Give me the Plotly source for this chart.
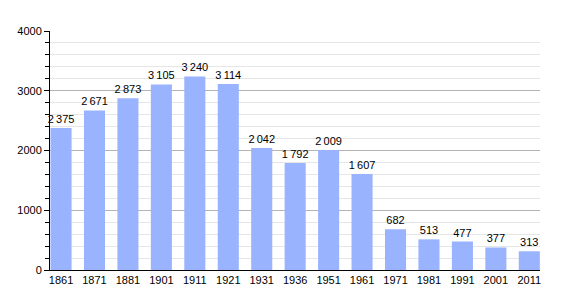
import plotly.graph_objects as go

years = ["1861", "1871", "1881", "1901", "1911", "1921", "1931", "1936", "1951", "1961", "1971", "1981", "1991", "2001", "2011"]
population = [2375, 2671, 2873, 3105, 3240, 3114, 2042, 1792, 2009, 1607, 682, 513, 477, 377, 313]

def fmt(v):
    return f"{v:,}".replace(",", "\u2009")

fig = go.Figure(go.Bar(
    x=years, y=population,
    text=[fmt(v) for v in population],
    textposition="outside",
    constraintext="none",
    textfont=dict(family="Liberation Sans, Arial", size=11, color="black"),
    cliponaxis=False,
    marker=dict(color="#99b3ff", line=dict(width=0)),
))

fig.update_layout(
    width=570, height=300,
    margin=dict(l=50, r=30, t=31, b=30),
    paper_bgcolor="white", plot_bgcolor="white",
    bargap=0.37,
    showlegend=False,
    font=dict(family="Liberation Sans, Arial", size=11, color="black"),
)
fig.update_xaxes(
    range=[-0.33, 14.32],
    showline=True, linecolor="black", linewidth=1,
    ticks="", showgrid=False,
    tickfont=dict(size=11),
)
fig.update_yaxes(
    range=[0, 4000], tickvals=[0, 1000, 2000, 3000, 4000],
    showline=True, linecolor="black", linewidth=1,
    showgrid=True, gridcolor="#b4b4b4", gridwidth=1,
    ticks="outside", ticklen=5, tickcolor="black",
    minor=dict(dtick=200, showgrid=True, gridcolor="#e6e6e6", ticks="outside", ticklen=4, tickcolor="black"),
    zeroline=False,
    tickfont=dict(size=11),
)

fig.write_html("out.html")
